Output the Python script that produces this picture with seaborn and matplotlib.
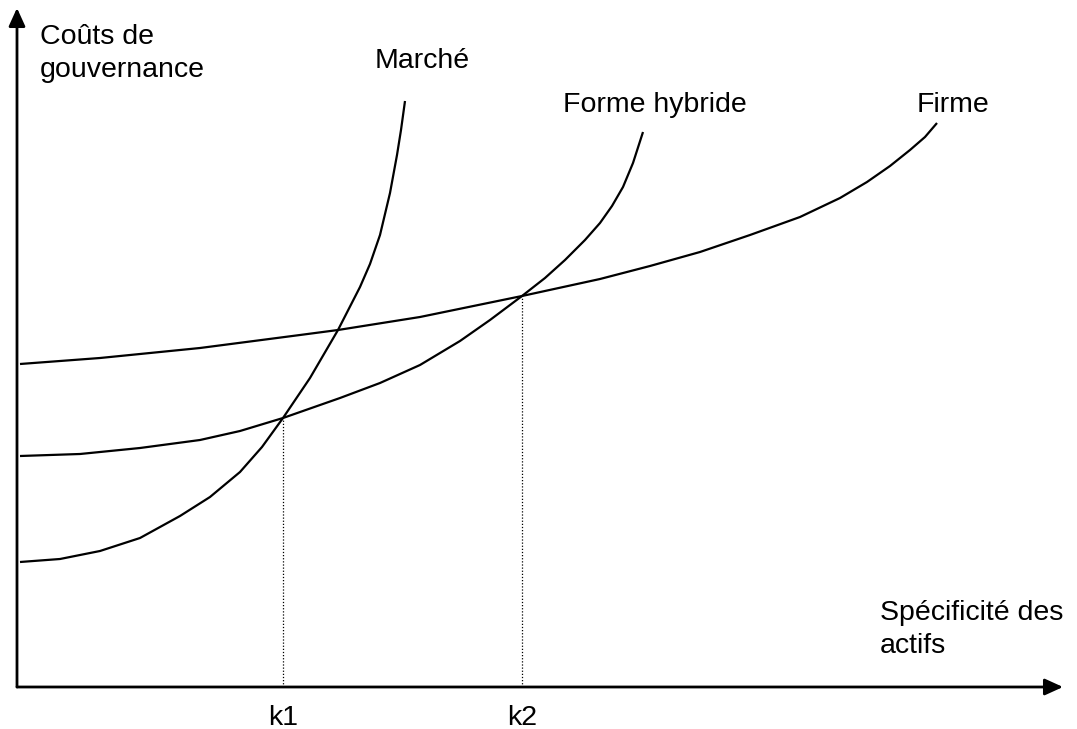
import matplotlib
matplotlib.use("Agg")
import matplotlib.pyplot as plt
import seaborn as sns
import pandas as pd

# Data (units: asset specificity / governance cost, origin at the axis corner)
marche_x = [0.3, 4.3, 8.3, 12.3, 16.3, 19.3, 22.3, 24.5, 26.6, 29.3, 32.1, 34.3, 35.3, 36.3, 37.3, 38.0, 38.4, 38.8]
marche_y = [12.5, 12.8, 13.6, 14.9, 17.1, 19.0, 21.5, 24.0, 26.9, 30.9, 35.7, 40.0, 42.3, 45.2, 49.4, 53.2, 55.7, 58.6]

hybride_x = [0.3, 6.3, 12.3, 18.3, 22.3, 26.6, 32.3, 36.3, 40.3, 44.3, 47.3, 50.5, 52.8, 54.8, 56.8, 58.3, 59.5, 60.6, 61.6, 62.6]
hybride_y = [23.1, 23.3, 23.9, 24.7, 25.6, 26.9, 28.9, 30.4, 32.2, 34.6, 36.7, 39.1, 40.9, 42.7, 44.7, 46.4, 48.1, 50.0, 52.4, 55.5]

firme_x = [0.3, 8.3, 18.3, 28.3, 32.1, 40.3, 50.5, 58.3, 63.3, 68.3, 73.3, 78.3, 82.3, 85.0, 87.3, 89.3, 90.8, 92.0]
firme_y = [32.3, 32.9, 33.9, 35.2, 35.7, 37.0, 39.1, 40.8, 42.1, 43.5, 45.2, 47.0, 48.9, 50.5, 52.1, 53.7, 55.0, 56.4]

k_labels = ["k1", "k2"]
k_x = [26.6, 50.5]
k_y = [26.9, 39.1]

curve_labels = ["Marché", "Forme hybride", "Firme"]

sns.set_style("white")
plt.rcParams["font.family"] = ["Liberation Sans", "DejaVu Sans"]
plt.rcParams["text.color"] = "black"

fig = plt.figure(figsize=(10.77, 7.29), dpi=100)
ax = fig.add_axes([0, 0, 1, 1])

df = pd.concat([
    pd.DataFrame({"x": marche_x, "y": marche_y, "curve": curve_labels[0]}),
    pd.DataFrame({"x": hybride_x, "y": hybride_y, "curve": curve_labels[1]}),
    pd.DataFrame({"x": firme_x, "y": firme_y, "curve": curve_labels[2]}),
])
for name, sub in df.groupby("curve", sort=False):
    sns.lineplot(data=sub, x="x", y="y", ax=ax, color="black", linewidth=1.6,
                 estimator=None, sort=False, legend=False,
                 solid_joinstyle="round", solid_capstyle="butt")

ax.vlines(k_x, 0, k_y, colors="black", linestyles=(0, (1, 1.5)), linewidth=0.9)

ax.set_xlim(-1.7, 106.0)
ax.set_ylim(-4.2, 68.7)
ax.set_axis_off()

# axes with arrows
ax.annotate("", xy=(104.6, 0), xytext=(0, 0),
            arrowprops=dict(arrowstyle="-|>,head_length=1.1,head_width=0.5",
                            color="black", lw=2.0, shrinkA=0, shrinkB=0))
ax.annotate("", xy=(0, 67.9), xytext=(0, 0),
            arrowprops=dict(arrowstyle="-|>,head_length=1.1,head_width=0.5",
                            color="black", lw=2.0, shrinkA=0, shrinkB=0))

fs = 20.5
tc = "black"
ax.text(2.3, 64.3, "Coûts de", fontsize=fs, va="baseline", ha="left", color=tc)
ax.text(2.3, 61.0, "gouvernance", fontsize=fs, va="baseline", ha="left", color=tc)
ax.text(35.8, 61.9, curve_labels[0], fontsize=fs, va="baseline", ha="left", color=tc)
ax.text(54.6, 57.5, curve_labels[1], fontsize=fs, va="baseline", ha="left", color=tc)
ax.text(90.0, 57.5, curve_labels[2], fontsize=fs, va="baseline", ha="left", color=tc)
ax.text(86.3, 6.7, "Spécificité des", fontsize=fs, va="baseline", ha="left", color=tc)
ax.text(86.3, 3.4, "actifs", fontsize=fs, va="baseline", ha="left", color=tc)
for lab, xv in zip(k_labels, k_x):
    ax.text(xv, -3.8, lab, fontsize=fs, va="baseline", ha="center", color=tc)

fig.savefig("out.png", dpi=100)
